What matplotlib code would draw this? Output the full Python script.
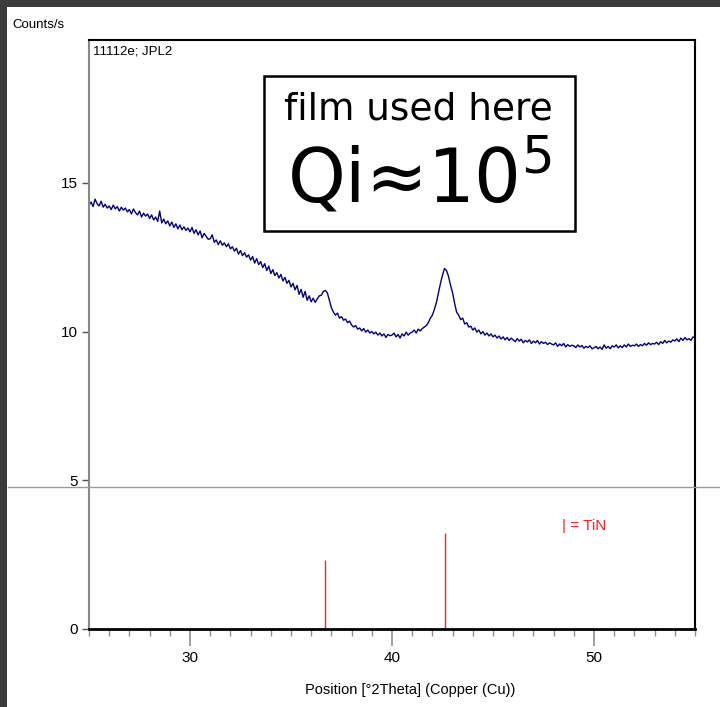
import matplotlib
matplotlib.use("Agg")
import matplotlib.pyplot as plt
from matplotlib.patches import Rectangle
from matplotlib.lines import Line2D
import numpy as np

two_theta_start = 25.0
two_theta_step = 0.1
counts = [
    14.25, 14.35, 14.20, 14.45, 14.30, 14.22, 14.38, 14.18, 14.28, 14.15,
    14.22, 14.10, 14.25, 14.12, 14.20, 14.05, 14.18, 14.08, 14.15, 14.02,
    14.10, 13.95, 14.12, 14.00, 13.92, 14.05, 13.85, 13.98, 13.88, 13.95,
    13.80, 13.92, 13.75, 13.85, 13.70, 14.05, 13.65, 13.78, 13.62, 13.72,
    13.55, 13.68, 13.50, 13.62, 13.45, 13.58, 13.42, 13.52, 13.40, 13.48,
    13.35, 13.50, 13.30, 13.42, 13.25, 13.38, 13.15, 13.30, 13.20, 13.10,
    13.12, 13.25, 13.00, 13.08, 12.92, 13.05, 12.90, 12.98, 12.85, 12.95,
    12.78, 12.85, 12.70, 12.80, 12.60, 12.72, 12.55, 12.65, 12.50, 12.58,
    12.40, 12.52, 12.30, 12.45, 12.25, 12.35, 12.15, 12.28, 12.05, 12.20,
    11.95, 12.08, 11.88, 11.98, 11.80, 11.92, 11.70, 11.82, 11.62, 11.72,
    11.50, 11.62, 11.40, 11.55, 11.25, 11.42, 11.15, 11.35, 11.05, 11.20,
    11.00, 11.12, 10.98, 11.10, 11.20, 11.22, 11.35, 11.38, 11.30, 11.05,
    10.80, 10.65, 10.55, 10.62, 10.45, 10.50, 10.38, 10.42, 10.30, 10.35,
    10.22, 10.15, 10.20, 10.08, 10.12, 10.02, 10.10, 9.98, 10.05, 9.95,
    10.00, 9.92, 9.98, 9.88, 9.95, 9.85, 9.92, 9.80, 9.90, 9.86,
    9.88, 9.95, 9.82, 9.90, 9.78, 9.92, 9.85, 9.98, 9.88, 9.95,
    9.98, 10.05, 9.95, 10.08, 10.02, 10.10, 10.15, 10.20, 10.30, 10.45,
    10.55, 10.75, 10.98, 11.30, 11.62, 11.90, 12.12, 12.05, 11.85, 11.55,
    11.30, 10.95, 10.65, 10.55, 10.40, 10.45, 10.25, 10.30, 10.15, 10.18,
    10.05, 10.12, 9.98, 10.05, 9.92, 10.00, 9.88, 9.95, 9.85, 9.92,
    9.82, 9.88, 9.78, 9.85, 9.75, 9.82, 9.72, 9.80, 9.70, 9.78,
    9.72, 9.66, 9.76, 9.68, 9.74, 9.62, 9.70, 9.65, 9.72, 9.60,
    9.68, 9.62, 9.70, 9.58, 9.66, 9.60, 9.64, 9.56, 9.62, 9.58,
    9.55, 9.62, 9.50, 9.58, 9.52, 9.60, 9.48, 9.56, 9.50, 9.54,
    9.52, 9.46, 9.55, 9.48, 9.53, 9.44, 9.50, 9.46, 9.52, 9.42,
    9.45, 9.50, 9.42, 9.48, 9.40, 9.55, 9.44, 9.50, 9.42, 9.52,
    9.48, 9.55, 9.45, 9.52, 9.46, 9.55, 9.48, 9.58, 9.50, 9.54,
    9.52, 9.58, 9.50, 9.56, 9.52, 9.60, 9.54, 9.62, 9.56, 9.60,
    9.58, 9.64, 9.56, 9.66, 9.60, 9.70, 9.62, 9.68, 9.64, 9.72,
    9.68, 9.75, 9.66, 9.78, 9.70, 9.80, 9.72, 9.76, 9.70, 9.82,
    9.79,
]

# TiN reference pattern (stick positions and heights)
tin_pos = [36.66, 42.60]
tin_height = [2.32, 3.23]

x_ticks = [30, 40, 50]
y_ticks = [0, 5, 10, 15]

narrow = ["Liberation Sans", "DejaVu Sans"]

fig = plt.figure(figsize=(7.2, 7.07), dpi=100)
ax = fig.add_axes([89 / 720, 1 - 629 / 707, 606 / 720, 589 / 707])

two_theta = two_theta_start + two_theta_step * np.arange(len(counts))
ax.plot(two_theta, counts, color="#000080", lw=1.0)
ax.vlines(tin_pos, 0, tin_height, color="#ff2020", lw=1.0)

ax.set_xlim(25, 55)
ax.set_ylim(0, 19.8)

ax.set_xticks(x_ticks)
ax.set_xticks(np.arange(25, 56, 1), minor=True)
ax.set_yticks(y_ticks)
ax.tick_params(axis="x", which="major", length=12, color="#909090", width=1.2,
               labelsize=11, pad=4)
ax.tick_params(axis="x", which="minor", length=5, color="#909090", width=1)
ax.tick_params(axis="y", length=5, color="#505050", width=1, labelsize=11, pad=3)
for lab in ax.get_xticklabels() + ax.get_yticklabels():
    lab.set_family(narrow)

ax.spines["left"].set_color("#888888")
ax.spines["left"].set_linewidth(1.5)
ax.spines["bottom"].set_linewidth(2)
ax.spines["right"].set_linewidth(1.5)
ax.spines["top"].set_linewidth(1.5)

ax.text(48.4, 3.45, "| = TiN", color="#ff2020", fontsize=11, family=narrow,
        va="center", ha="left")

# separator between scan and reference pattern
fig.add_artist(Line2D([8 / 720, 1], [1 - 487 / 707] * 2, color="#999999", lw=1))

# dark window frame
fig.add_artist(Rectangle((0, 1 - 7 / 707), 1, 7 / 707, color="#3c3c3c", lw=0))
fig.add_artist(Rectangle((0, 0), 7 / 720, 1, color="#3c3c3c", lw=0))

fig.text(12 / 720, 1 - 25 / 707, "Counts/s", fontsize=9.5, family=narrow, va="center")
fig.text(93 / 720, 1 - 52 / 707, "11112e; JPL2", fontsize=9.5, family=narrow, va="center")
fig.text(410 / 720, 1 - 690 / 707, "Position [°2Theta] (Copper (Cu))", fontsize=10.5,
         family=narrow, ha="center", va="center")

# annotation box
fig.add_artist(Rectangle((264 / 720, 1 - 231 / 707), 311 / 720, 155 / 707,
                         fill=False, ec="black", lw=1.8))
fig.text(418 / 720, 1 - 110 / 707, "film used here", fontsize=27,
         family="DejaVu Sans", ha="center", va="center")
fig.text(419 / 720, 1 - 178 / 707, "Qi≈10$^5$", fontsize=53,
         family="DejaVu Sans", ha="center", va="center")

fig.savefig("out.png", dpi=100)
